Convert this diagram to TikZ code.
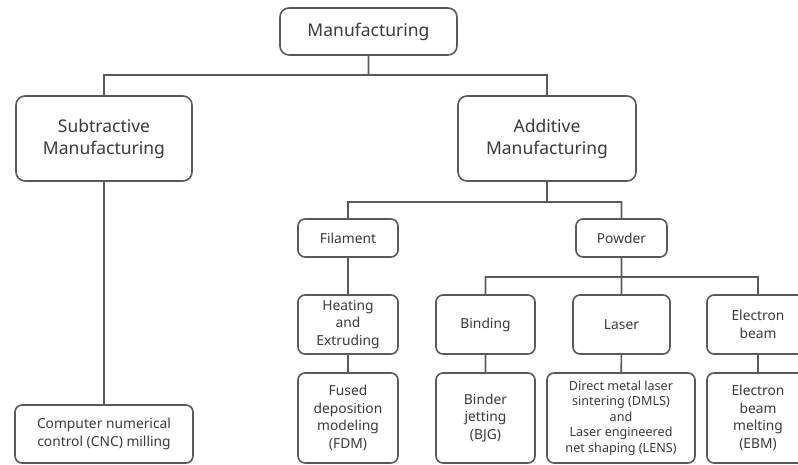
\documentclass[tikz,border=0pt]{standalone}
\usepackage{fontspec}
\setmainfont{Noto Sans}
\usepackage{tikz}
\usepackage{xcolor}
\definecolor{boxline}{HTML}{5A5A5A}
\definecolor{boxtext}{HTML}{3A3A3A}

\begin{document}
\begin{tikzpicture}[x=1pt,y=-1pt]
            \tikzset{
            mf node/.style={draw=boxline,line width=1.6pt,rounded corners=9pt,align=center,inner sep=0,
                text=boxtext,font=\fontsize{17.5}{22}\selectfont},
            mf small/.style={mf node,rounded corners=7pt,font=\fontsize{13.8}{17.5}\selectfont},
            mf edge/.style={draw=boxline,line width=1.6pt}
            }
            \useasboundingbox (0,0) rectangle (798,465);
            \node[mf node,minimum width=177pt,minimum height=47pt] (mfg) at (368.5,31.5) {Manufacturing};
            \node[mf node,minimum width=176pt,minimum height=85pt] (sub) at (104,138.5) {Subtractive\\Manufacturing};
            \node[mf node,minimum width=178pt,minimum height=85pt] (add) at (547,138.5) {Additive\\Manufacturing};
            \node[mf small,minimum width=178pt,minimum height=58pt] (cnc) at (104,434) {Computer numerical\\control (CNC) milling};
            \node[mf small,minimum width=100pt,minimum height=38pt] (fil) at (348,238) {Filament};
            \node[mf small,minimum width=91pt,minimum height=38pt] (pow) at (621.5,238) {Powder};
            \node[mf small,minimum width=100pt,minimum height=59pt] (heat) at (348,324.5) {Heating\\and\\Extruding};
            \node[mf small,minimum width=99pt,minimum height=59pt] (bind) at (485.5,324.5) {Binding};
            \node[mf small,minimum width=97pt,minimum height=59pt] (las) at (621.5,324.5) {Laser};
            \node[mf small,minimum width=102pt,minimum height=59pt] (eb) at (758,324.5) {Electron\\beam};
            \node[mf small,minimum width=100pt,minimum height=90pt] (fdm) at (348,418) {Fused\\deposition\\modeling\\(FDM)};
            \node[mf small,minimum width=99pt,minimum height=90pt] (bjg) at (485.5,418) {Binder\\jetting\\(BJG)};
            \node[mf small,minimum width=148pt,minimum height=90pt,font=\fontsize{12.6}{15.5}\selectfont] (dmls) at (621,418)
                {Direct metal laser\\sintering (DMLS)\\and\\Laser engineered\\net shaping (LENS)};
            \node[mf small,minimum width=102pt,minimum height=90pt] (ebm) at (758,418) {Electron\\beam\\melting\\(EBM)};

            \coordinate (b1) at (368.5,75);
            \coordinate (b2) at (547,202);
            \coordinate (b3) at (621.5,277);

            \path[mf edge]
            (mfg) -- (b1) -| (sub)
            (b1) -| (add)
            (sub) -- (cnc)
            (add) -- (b2) -| (fil)
            (b2) -| (pow)
            (pow) -- (b3) -| (bind)
            (b3) -| (eb)
            (b3) -- (las)
            (fil) -- (heat)
            (heat) -- (fdm)
            (bind) -- (bjg)
            (las) -- (dmls)
            (eb) -- (ebm)
            ;
        \end{tikzpicture}
\end{document}
